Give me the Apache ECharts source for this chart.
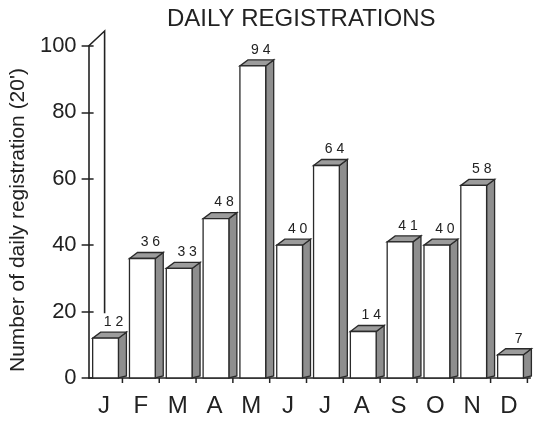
<!DOCTYPE html>
<html>
<head>
<meta charset="utf-8">
<script src="https://cdn.jsdelivr.net/npm/echarts@6/dist/echarts.min.js"></script>
<style>html,body{margin:0;padding:0;background:#fff}#c{width:534px;height:423px}</style>
</head>
<body>
<div id="c"></div>
<script>
const months = ['J','F','M','A','M','J','J','A','S','O','N','D'];
const registrations = [12,36,33,48,94,40,64,14,41,40,58,7];
const yTicks = [0,20,40,60,80,100];
const titleText = 'DAILY REGISTRATIONS';
const yName = "Number of daily registration (20')";

const FONT = '"Liberation Sans", Arial, Helvetica, sans-serif';
const INK = '#222';

const chart = echarts.init(document.getElementById('c'), null, {renderer: 'canvas'});

function renderItem(params, api) {
  const idx = api.value(0), val = api.value(1);
  const base = api.coord([idx, 0]);
  const top = api.coord([idx, val]);
  const w = api.size([1, 0])[0];
  const s = base[0] - w / 2;
  const fl = s + 0.11 * w, fr = s + 0.81 * w;
  const dx = 8, dy = -6;
  const line = {stroke: '#2a2a2a', lineWidth: 1.3};
  const children = [
    {type: 'polygon', shape: {points: [[fr, base[1]], [fr, top[1]], [fr + dx, top[1] + dy], [fr + dx, base[1] - 2]]},
     style: Object.assign({fill: '#8e8e8e'}, line)},
    {type: 'polygon', shape: {points: [[fl, top[1]], [fr, top[1]], [fr + dx, top[1] + dy], [fl + dx, top[1] + dy]]},
     style: Object.assign({fill: '#9c9c9c'}, line)},
    {type: 'rect', shape: {x: fl, y: top[1], width: fr - fl, height: base[1] - top[1]},
     style: Object.assign({fill: '#ffffff'}, line)},
    {type: 'line', shape: {x1: fr + 4, y1: base[1], x2: fr + 4, y2: base[1] + 5},
     style: {stroke: INK, lineWidth: 1.5}},
    {type: 'text', x: (fl + fr) / 2 + 8, y: top[1] + dy - 3,
     style: {text: String(val).split('').join(' '), textAlign: 'center', textVerticalAlign: 'bottom',
             font: '14px ' + FONT, fill: INK}}
  ];
  if (params.dataIndex === 0) {
    const ax = s;
    const yTop = api.coord([0, yTicks[yTicks.length - 1]])[1];
    const yEnd = api.coord([0, 19.5])[1];
    children.push({type: 'polyline', shape: {points: [[ax, yTop], [ax + 16, yTop - 15], [ax + 16, yEnd]]},
      style: {stroke: INK, lineWidth: 1.6, fill: null}});
  }
  return {type: 'group', children: children};
}

chart.setOption({
  animation: false,
  backgroundColor: '#ffffff',
  title: {
    text: titleText, left: 167, top: 7, padding: 0,
    textStyle: {fontFamily: FONT, fontSize: 24, fontWeight: 'normal', color: INK}
  },
  grid: {left: 84, right: 3.6, top: 46, bottom: 45, containLabel: false},
  xAxis: {
    type: 'category', data: months,
    axisLine: {lineStyle: {color: INK, width: 1.5}},
    axisTick: {show: false},
    axisLabel: {fontFamily: FONT, fontSize: 24, color: INK, margin: 16, padding: [0, 6, 0, 0]},
    splitLine: {show: false}
  },
  yAxis: [{
    type: 'value', min: yTicks[0], max: yTicks[yTicks.length - 1], interval: 20,
    name: yName, nameLocation: 'middle', nameGap: 48, nameRotate: 90,
    nameTextStyle: {fontFamily: FONT, fontSize: 21, color: INK, padding: [0, 16, 0, 0]},
    axisLine: {show: true, lineStyle: {color: INK, width: 1.6}},
    axisTick: {show: true, length: 7, lineStyle: {color: INK, width: 1.5}},
    axisLabel: {fontFamily: FONT, fontSize: 22, color: INK, margin: 12, padding: [8, 0, 0, 0]},
    splitLine: {show: false}
  }, {
    type: 'value', position: 'left', min: yTicks[0], max: yTicks[yTicks.length - 1], interval: 20,
    axisLine: {show: false},
    axisTick: {show: true, inside: true, length: 5, lineStyle: {color: INK, width: 1.5}},
    axisLabel: {show: false},
    splitLine: {show: false}
  }],
  series: [{
    type: 'custom', clip: false,
    renderItem: renderItem,
    data: registrations.map((v, i) => [i, v]),
    encode: {x: 0, y: 1}
  }]
});
</script>
</body>
</html>
